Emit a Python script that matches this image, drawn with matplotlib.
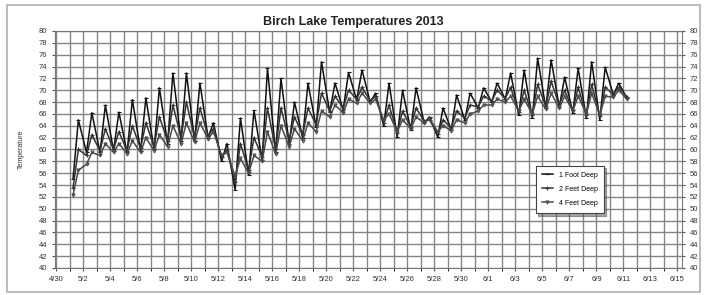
import numpy as np
import pandas as pd
import matplotlib
matplotlib.use("Agg")
import matplotlib.pyplot as plt
import matplotlib.dates as mdates
from matplotlib.patches import Rectangle

plt.rcParams['font.family'] = ['Liberation Sans', 'DejaVu Sans']

# readings start 5/1, one low (early morning) and one high (afternoon) per day
start = pd.Timestamp("2013-05-01")
n_days = 42

ft1_low = [55.0, 59.5, 59.5, 59.8, 59.5, 59.8, 60.0, 61.0, 61.5, 61.5,
           62.0, 58.0, 53.2, 55.7, 58.2, 59.5, 61.0, 62.0, 63.8, 66.3,
           66.7, 68.4, 68.0, 64.0, 62.1, 63.3, 64.5, 62.1, 63.3, 65.0,
           67.0, 68.0, 68.5, 65.8, 65.3, 67.0, 67.2, 66.2, 65.3, 65.0,
           69.2, 68.7]
ft1_high = [65.0, 66.2, 67.5, 66.3, 68.4, 68.7, 70.4, 72.9, 72.9, 71.2,
            64.5, 61.0, 65.3, 66.6, 73.7, 72.0, 68.0, 71.2, 74.8, 71.2,
            73.0, 73.4, 69.5, 71.2, 70.0, 70.4, 65.5, 67.0, 69.2, 69.5,
            70.4, 71.2, 72.9, 73.4, 75.4, 75.1, 72.2, 73.7, 74.8, 73.9,
            71.2]

ft2_low = [53.5, 59.0, 59.8, 60.0, 59.8, 60.2, 60.5, 61.5, 62.0, 62.0,
           62.3, 58.8, 54.5, 56.5, 58.8, 60.0, 61.5, 62.5, 64.2, 66.5,
           67.0, 68.5, 68.2, 64.5, 62.8, 63.8, 64.8, 62.6, 63.6, 65.3,
           67.2, 68.2, 68.6, 66.3, 65.8, 67.3, 67.5, 66.6, 65.8, 65.6,
           69.3, 68.9]
ft2_high = [60.0, 62.5, 63.5, 63.0, 64.0, 64.5, 65.5, 67.5, 68.0, 67.0,
            63.5, 60.0, 61.0, 62.0, 67.0, 67.0, 65.5, 67.0, 69.5, 69.0,
            70.0, 70.5, 69.0, 67.5, 66.5, 67.0, 65.0, 65.0, 66.5, 67.5,
            69.0, 70.0, 70.5, 70.0, 71.0, 71.5, 70.0, 70.5, 71.0, 70.5,
            70.5]

ft4_low = [52.3, 57.5, 59.0, 59.5, 59.3, 59.5, 59.8, 60.5, 61.0, 61.2,
           61.8, 59.0, 55.5, 56.0, 58.0, 59.2, 60.5, 61.5, 63.0, 65.5,
           66.2, 67.8, 67.8, 65.0, 63.0, 63.5, 64.5, 63.0, 63.2, 64.5,
           66.5, 67.5, 68.0, 66.5, 66.0, 66.8, 67.0, 66.5, 66.0, 65.8,
           68.8, 68.5]
ft4_high = [56.5, 59.5, 61.0, 61.0, 61.5, 62.0, 62.5, 64.0, 64.5, 64.5,
            63.0, 59.5, 58.5, 59.0, 63.0, 64.0, 63.5, 64.5, 66.5, 67.5,
            68.5, 69.5, 68.5, 66.0, 65.0, 65.5, 65.2, 64.0, 65.0, 66.0,
            67.5, 68.5, 69.0, 68.5, 69.0, 69.5, 69.0, 69.0, 69.5, 69.0,
            70.0]

labels = ["1 Foot Deep", "2 Feet Deep", "4 Feet Deep"]


def build(lows, highs):
    t, v = [], []
    for i in range(n_days):
        day = start + pd.Timedelta(days=i)
        t.append(day + pd.Timedelta(hours=6))
        v.append(lows[i])
        if i < len(highs):
            t.append(day + pd.Timedelta(hours=15.5))
            v.append(highs[i])
    return t, v


fig = plt.figure(figsize=(7.07, 2.95), dpi=100)
ax = fig.add_axes([55 / 707, 1 - 268 / 295, 627 / 707, 237 / 295])

styles = [("#111111", "_", 3.5), ("#333333", "+", 3), ("#4a4a4a", "v", 2.2)]
for (lo, hi), lab, (c, m, ms) in zip([(ft1_low, ft1_high), (ft2_low, ft2_high), (ft4_low, ft4_high)],
                                    labels, styles):
    t, v = build(lo, hi)
    ax.plot(t, v, color=c, lw=1.1, marker=m, ms=ms, mew=0.8, mfc="none", label=lab)

ax.set_xlim(pd.Timestamp("2013-04-30") - pd.Timedelta(hours=2),
            pd.Timestamp("2013-06-15") + pd.Timedelta(hours=8))
ax.set_ylim(40, 80)
ax.set_yticks(np.arange(40, 81, 2))
ax.set_xticks(pd.date_range("2013-04-30", "2013-06-15", freq="2D"))
ax.set_xticks(pd.date_range("2013-04-30", "2013-06-15", freq="D"), minor=True)
ax.xaxis.set_major_formatter(mdates.DateFormatter("%-m/%-d"))
ax.grid(True, which="both", color="#858585", lw=1.0)
ax.set_axisbelow(True)
ax.tick_params(labelsize=5.5, length=2, color="#555555", labelcolor="#333333")
ax.tick_params(axis="y", right=True, labelright=True)
ax.tick_params(which="minor", length=2)
for s in ax.spines.values():
    s.set_color("#777777")

ax.set_ylabel("Temperature", fontsize=5, color="#333333", labelpad=10)
fig.text(0.5, 1 - 22 / 295, "Birch Lake Temperatures 2013", ha="center", va="center",
         fontsize=9, fontweight="bold", color="#222222")

leg = ax.legend(loc="upper left", bbox_to_anchor=(0.761, 0.447), fontsize=5,
                frameon=True, fancybox=False, shadow=True, handlelength=1.6,
                borderpad=0.9, labelspacing=1.0, edgecolor="#444444")
leg.get_frame().set_linewidth(0.8)

fig.patches.append(Rectangle((7 / 707, 3 / 295), 693 / 707, 287 / 295, transform=fig.transFigure,
                             fill=False, edgecolor="#b0b0b0", lw=1.2))

fig.savefig("out.png", dpi=100)
